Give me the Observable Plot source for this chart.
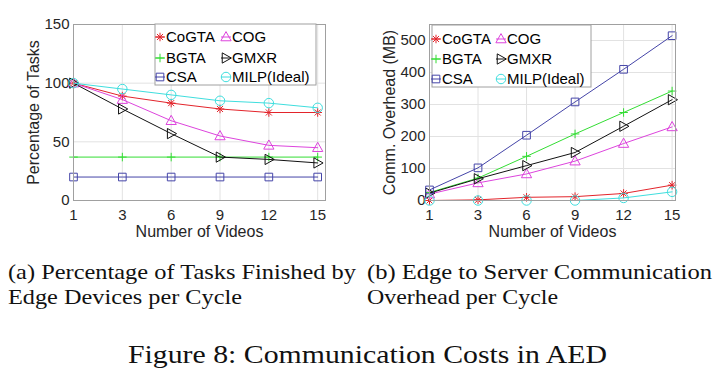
<!DOCTYPE html>
<html><head><meta charset="utf-8">
<script src="https://cdn.jsdelivr.net/npm/d3@7"></script>
<script src="https://cdn.jsdelivr.net/npm/@observablehq/plot@0.6"></script>
<style>
body{margin:0;background:#fff}
#wrap{position:relative;width:722px;height:380px;overflow:hidden;background:#fff}
.chart{position:absolute;top:0}
.cap{position:absolute;font-family:"Liberation Serif","Times New Roman",Times,serif;white-space:nowrap;color:#111;line-height:1;transform-origin:0 0}
</style></head><body>
<div id="wrap">
 <div id="ca" class="chart" style="left:0"></div>
 <div id="cb" class="chart" style="left:360px"></div>
 <div class="cap" data-w="348" style="left:8px;top:262px;font-size:21px">(a) Percentage of Tasks Finished by</div>
 <div class="cap" data-w="234" style="left:8px;top:287px;font-size:21px">Edge Devices per Cycle</div>
 <div class="cap" data-w="345" style="left:367px;top:262px;font-size:21px">(b) Edge to Server Communication</div>
 <div class="cap" data-w="191" style="left:367px;top:287px;font-size:21px">Overhead per Cycle</div>
 <div class="cap" data-w="479" style="left:128px;top:342px;font-size:26px">Figure 8: Communication Costs in AED</div>
</div>
<script>
// ---- data ----
const xLabels = ["1", "3", "6", "9", "12", "15"];
const seriesNames = ["CoGTA", "COG", "BGTA", "GMXR", "CSA", "MILP(Ideal)"];
const seriesColors = ["#e3242b", "#dd44dd", "#33dd33", "#111111", "#4545a8", "#3fdede"];
const seriesSymbols = ["asterisk", "triangleUp", "plus", "triangleRight", "square", "circle"];

// (a) Percentage of tasks finished by edge devices
const pctCoGTA = [100, 89, 83, 78, 75, 75];
const pctCOG   = [100, 86, 68, 55, 47, 45];
const pctBGTA  = [37, 37, 37, 37, 37, 37];
const pctGMXR  = [100, 78, 57, 37, 35, 32];
const pctCSA   = [20, 20, 20, 20, 20, 20];
const pctMILP  = [100, 95, 90, 85, 83, 79];
const pctTicks = [0, 50, 100, 150];

// (b) Edge-to-server communication overhead (MB)
const ovhCoGTA = [0, 2, 10, 12, 22, 48];
const ovhCOG   = [20, 55, 83, 123, 178, 230];
const ovhBGTA  = [25, 70, 138, 208, 275, 342];
const ovhGMXR  = [23, 68, 109, 150, 232, 315];
const ovhCSA   = [33, 102, 204, 308, 410, 515];
const ovhMILP  = [0, 0, 0, 0, 8, 27];
const ovhTicks = [0, 100, 200, 300, 400, 500];

// ---- symbols (MATLAB-like markers) ----
const SYM = {
  asterisk: {draw(c, s) { const r = Math.sqrt(s / Math.PI) * 0.95, d = r * 0.7071;
    c.moveTo(-r, 0); c.lineTo(r, 0); c.moveTo(0, -r); c.lineTo(0, r);
    c.moveTo(-d, -d); c.lineTo(d, d); c.moveTo(-d, d); c.lineTo(d, -d); }},
  triangleUp: {draw(c, s) { const r = Math.sqrt(s / Math.PI) * 1.2;
    c.moveTo(0, -r); c.lineTo(r * 0.95, r * 0.7); c.lineTo(-r * 0.95, r * 0.7); c.closePath(); }},
  triangleRight: {draw(c, s) { const r = Math.sqrt(s / Math.PI) * 1.2;
    c.moveTo(r, 0); c.lineTo(-r * 0.7, -r * 0.95); c.lineTo(-r * 0.7, r * 0.95); c.closePath(); }},
  plus: {draw(c, s) { const r = Math.sqrt(s / Math.PI) * 0.95;
    c.moveTo(-r, 0); c.lineTo(r, 0); c.moveTo(0, -r); c.lineTo(0, r); }},
  square: {draw(c, s) { const r = Math.sqrt(s / Math.PI) * 0.85;
    c.moveTo(-r, -r); c.lineTo(r, -r); c.lineTo(r, r); c.lineTo(-r, r); c.closePath(); }},
  circle: {draw(c, s) { const r = Math.sqrt(s / Math.PI) * 1.05;
    c.moveTo(r, 0); c.arc(0, 0, r, 0, 2 * Math.PI); }}
};
const MR = 4.5;

function legendMark(cfg) {
  return (index, scales, values, dims) => {
    const g = d3.create("svg:g")
      .attr("font-family", "'Liberation Sans', Arial, sans-serif")
      .attr("font-size", 15).attr("fill", "#000").attr("text-anchor", "start");
    const x0 = cfg.anchor === "right"
      ? dims.width - dims.marginRight - cfg.inset - cfg.w
      : dims.marginLeft + cfg.inset;
    const y0 = dims.marginTop + cfg.top;
    g.append("rect").attr("x", x0).attr("y", y0).attr("width", cfg.w).attr("height", cfg.h)
      .attr("fill", "#fff").attr("stroke", "#a0a0a0");
    seriesNames.forEach((name, k) => {
      const mx = x0 + cfg.colX[k % 2], my = y0 + cfg.rowY[Math.floor(k / 2)];
      g.append("line").attr("x1", mx - 5).attr("x2", mx + 5).attr("y1", my).attr("y2", my)
        .attr("stroke", seriesColors[k]);
      g.append("path").attr("d", d3.symbol(SYM[seriesSymbols[k]], MR * MR * Math.PI)())
        .attr("transform", `translate(${mx},${my})`).attr("fill", "none").attr("stroke", seriesColors[k]);
      g.append("text").attr("x", mx + 6).attr("y", my).attr("dy", "0.36em").text(name);
    });
    return g.node();
  };
}

function chart(series, o) {
  const idx = d3.range(xLabels.length);
  const marks = [
    Plot.gridX(idx, {stroke: "#e2e2e2", strokeOpacity: 1}),
    Plot.gridY(o.yTicks, {stroke: "#e2e2e2", strokeOpacity: 1}),
    Plot.axisX(idx, {tickFormat: i => xLabels[i], tickSize: 0, tickPadding: 9, fontSize: 15, label: null}),
    Plot.axisY(o.yTicks, {tickSize: 0, tickPadding: 4, fontSize: 15, label: null}),
    Plot.text([o.xLabel], {text: d => d, frameAnchor: "bottom", dy: 36, fontSize: 16, textAnchor: "middle"}),
    Plot.text([o.yLabel], {text: d => d, frameAnchor: "left", dx: -40, rotate: -90, fontSize: 16, textAnchor: "middle"})
  ];
  seriesNames.forEach((name, k) => {
    const rows = series[k].map((v, i) => ({i, v}));
    marks.push(Plot.line(rows, {x: "i", y: "v", stroke: seriesColors[k], strokeWidth: 1}));
    marks.push(Plot.dot(rows, {x: "i", y: "v", stroke: seriesColors[k], fill: "none",
      symbol: SYM[seriesSymbols[k]], r: MR, strokeWidth: 1}));
  });
  marks.push(Plot.frame({stroke: "#a0a0a0"}));
  marks.push(legendMark(o.legend));
  return Plot.plot({
    width: o.width, height: 250,
    marginLeft: o.ml, marginRight: o.mr, marginTop: 24, marginBottom: 50,
    x: {domain: [0, o.xMax]},
    y: {domain: o.yDomain},
    style: {fontFamily: "'Liberation Sans', Arial, sans-serif", color: "#262626", background: "transparent", overflow: "visible"},
    marks
  });
}

document.getElementById("ca").append(chart(
  [pctCoGTA, pctCOG, pctBGTA, pctGMXR, pctCSA, pctMILP],
  {width: 360, ml: 73, mr: 35, xMax: 5.16, yDomain: [0, 150], yTicks: pctTicks,
   xLabel: "Number of Videos", yLabel: "Percentage of Tasks",
   legend: {anchor: "right", inset: 9, w: 161, h: 61, top: 0, colX: [5, 71], rowY: [13, 34, 53]}}
));
document.getElementById("cb").append(chart(
  [ovhCoGTA, ovhCOG, ovhBGTA, ovhGMXR, ovhCSA, ovhMILP],
  {width: 362, ml: 69, mr: 47, xMax: 5.07, yDomain: [0, 550], yTicks: ovhTicks,
   xLabel: "Number of Videos", yLabel: "Comm. Overhead (MB)",
   legend: {anchor: "left", inset: 3, w: 159, h: 62, top: 1, colX: [4, 69], rowY: [14, 34, 54]}}
));

document.querySelectorAll(".cap").forEach(el => {
  const w = +el.dataset.w;
  const nat = el.getBoundingClientRect().width;
  el.style.transform = `scaleX(${w / nat})`;
});
</script>
</body></html>
